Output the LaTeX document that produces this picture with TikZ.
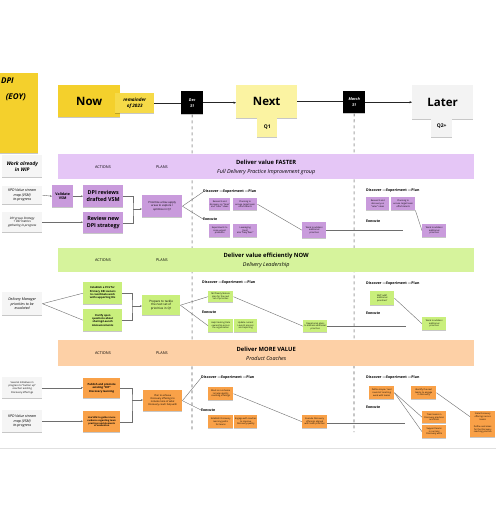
\documentclass[tikz,border=0pt]{standalone}
\usepackage{fontspec}
\setmainfont{Open Sans}
\usetikzlibrary{arrows.meta,shadows}
\newcommand\fsz[2]{\fontsize{#1}{#2}\selectfont}
\definecolor{cGold}{HTML}{F4D02C}
\definecolor{cRem}{HTML}{F6DA48}
\definecolor{cNext}{HTML}{FBF3A2}
\definecolor{cLater}{HTML}{F3F3F3}
\definecolor{cWhite}{HTML}{F5F5F5}
\definecolor{bandP}{HTML}{E5C6F6}
\definecolor{stkP}{HTML}{C99BDC}
\definecolor{bandG}{HTML}{D6F39C}
\definecolor{stkG}{HTML}{C9EF7C}
\definecolor{bandO}{HTML}{FDD0A6}
\definecolor{stkO}{HTML}{F9A148}
\definecolor{lineC}{HTML}{6E6E6E}
\tikzset{
  stk/.style={fill=#1, inner sep=0.5pt, align=center, anchor=north west,
    drop shadow={shadow xshift=0pt, shadow yshift=-0.8pt, opacity=0.22, fill=black}},
  sz/.style 2 args={minimum width=#1, minimum height=#2},
  band/.style={fill=#1, anchor=north west, inner sep=0pt, minimum width=416},
  conn/.style={draw=lineC, line width=0.4pt},
  arr/.style={conn, -{Stealth[length=2pt,width=1.8pt]}},
  tl/.style={draw=black!85, line width=0.6pt},
  tlarr/.style={tl, -{Stealth[length=2.5pt,width=2.2pt]}},
  dashln/.style={draw=black!35, line width=1.1pt, dash pattern=on 3pt off 3pt},
  lbl/.style={anchor=west, inner sep=0pt, font=\fsz{3.6}{4}\bfseries},
  tiny/.style={font=\fsz{2.2}{2.6}},
  bandtxt/.style={font=\fsz{3.8}{4.5}},
}
\begin{document}
\begin{tikzpicture}[x=1pt,y=-1pt]
\useasboundingbox[fill=white] (0,0) rectangle (496,522);
\draw[black!12, line width=0.4pt] (0,448) -- (496,448);
% ---------------- timeline ----------------
\node[stk=cGold, sz={78}{80}] (big) at (-40,73) {};
\node[anchor=east, inner sep=0pt, font=\fsz{8}{9}\bfseries\itshape] (bigA) at (14,81) {DPI};
\node[anchor=east, inner sep=0pt, font=\fsz{8}{9}\bfseries\itshape] (bigB) at (26,97) {(EOY)};
\node[stk=cGold, sz={62}{32}, font=\fsz{11.5}{12}\bfseries] (now) at (58,85) {Now};
\node[stk=cRem, sz={39}{20}, font=\fsz{4.6}{5.6}\bfseries\itshape] (rem) at (115,93) {remainder\\of 2023};
\node[stk=black, sz={22}{23}, text=white, font=\fsz{3.8}{6}\bfseries\itshape] (dec) at (181,91) {Dec\\31};
\node[stk=cNext, sz={61}{33}, font=\fsz{11.5}{12}\bfseries] (next) at (236,85) {Next};
\node[stk=cNext, sz={20}{20}, font=\fsz{5}{6}\bfseries] (q1) at (257,117) {Q1};
\node[stk=black, sz={22}{22}, text=white, font=\fsz{3.8}{6}\bfseries\itshape] (mar) at (343,91) {March\\31};
\node[stk=cLater, sz={61}{34}, font=\fsz{11.5}{12}\bfseries] (later) at (412,85) {Later};
\node[stk=cLater, sz={21}{22}, font=\fsz{5}{6}\bfseries] (q2) at (431,115) {Q2+};
\draw[tl] (rem.east) -- (rem.east -| dec.west);
\draw[tlarr] (dec.east) -- (dec.east -| next.west);
\draw[tl] (next.east) -- (next.east -| mar.west);
\draw[tlarr] (mar.east) -- (mar.east -| later.west);
\coordinate (d1end) at (192,432);
\coordinate (d2end) at (354,432);
\draw[dashln] (dec.south) -- (d1end);
\draw[dashln] (mar.south) -- (d2end);
% ---------------- bands ----------------
\node[band=bandP, minimum height=25] (b1) at (58,154) {};
\node[band=bandG, minimum height=24] (b2) at (58,248) {};
\node[band=bandO, minimum height=26] (b3) at (58,340) {};
\foreach \b/\t/\s in {b1/Deliver value FASTER/Full Delivery Practice Improvement group,
                      b2/Deliver value efficiently NOW/Delivery Leadership,
                      b3/Deliver MORE VALUE/Product Coaches}{
  \node[bandtxt] (\b act) at ([xshift=45]\b.west) {ACTIONS};
  \node[bandtxt] (\b pl) at ([xshift=104]\b.west) {PLANS};
  \node[font=\fsz{5.8}{6.5}\bfseries, inner sep=0pt] (\b tt) at ([yshift=4]\b.center) {\t};
  \node[font=\fsz{5.4}{6}\itshape, inner sep=0pt] (\b st) at ([yshift=-5]\b.center) {\s};
}
% ---------------- row 1 (purple) ----------------
\node[stk=cWhite, sz={40}{22}, font=\fsz{5}{6}\bfseries\itshape] (wip) at (2,155) {Work already\\in WIP};
\node[stk=cWhite, sz={40}{18}, font=\fsz{3.6}{4.4}\itshape] (w1) at (2,186) {KPD Value stream\\map (VSM)\\in-progress};
\node[stk=cWhite, sz={40}{20}, font=\fsz{3}{3.8}\itshape] (w2) at (2,212) {DPI group Strategy\\+ DEI metrics\\gathering in-progress};
\node[stk=stkP, sz={21}{22}, font=\fsz{3.6}{4.4}\bfseries] (val) at (52,185) {Validate\\VSM};
\node[stk=stkP, sz={40}{22}, font=\fsz{5.4}{6.6}\bfseries] (drev) at (83,185) {DPI reviews\\drafted VSM};
\node[stk=stkP, sz={40}{21}, font=\fsz{5.4}{6.6}\bfseries] (rnew) at (83,212) {Review new\\DPI strategy};
\node[stk=stkP, sz={40}{22}, font=\fsz{2.7}{3.4}] (prio) at (142,195) {Prioritize a few supply\\areas to explore /\\optimize in Q1};
\draw[arr] (w1.east) -- (val.west);
\draw[arr] (val.east) -- (drev.west);
\draw[arr] (w2.east) -- (w2.east -| rnew.west);
\coordinate (m1) at (133,209);
\draw[conn] (drev.east) -| (m1) |- (rnew.east);
\draw[arr] (m1) -- (m1 -| prio.west);
\node[lbl] (dep1) at (203,192) {Discover ---Experiment ---Plan};
\node[lbl] (ex1) at (203,219) {Execute};
\draw[conn] (prio.east) -- (dep1.west);
\draw[conn] (prio.east) -- (ex1.west);
\node[stk=stkP, sz={21}{12}, tiny] (s11) at (209,198) {Research and\\discovery on ``Now''\\and ``Later'' ideas};
\node[stk=stkP, sz={24}{12}, tiny] (s12) at (233,198) {Planning to\\ensure target team\\efforts/alerts};
\node[stk=stkP, sz={21}{13}, tiny] (s13) at (209,224) {Experiments to\\solve urgent\\problems};
\node[stk=stkP, sz={24}{13}, tiny] (s14) at (233,224) {Leveraging\\{[tool]}\\also ``Easy fixes''};
\node[stk=stkP, sz={24}{16}, tiny] (far1) at (302,222) {Work to address\\additional\\priorities};
\draw[conn] (s12.east) -- (far1.west);
\coordinate (e1) at (403,230);
\draw[conn] (far1.east |- e1) -- (e1);
\node[lbl] (dep1L) at (366,191) {Discover ---Experiment ---Plan};
\node[lbl] (ex1L) at (366,221) {Execute};
\node[stk=stkP, sz={23}{13}, tiny] (t11) at (366,197) {Research and\\discovery on\\``Later'' ideas};
\node[stk=stkP, sz={24}{13}, tiny] (t12) at (391,197) {Planning to\\ensure target team\\efforts/alerts};
\node[stk=stkP, sz={24}{13}, tiny] (t13) at (422,224) {Work to address\\additional\\priorities};
\draw[conn] (t12.south east) -- (t13.west);
% ---------------- row 2 (green) ----------------
\node[stk=cWhite, sz={40}{23}, font=\fsz{3.6}{4.4}\itshape] (dm) at (2,292) {Delivery Manager\\priorities to be\\escalated};
\node[stk=stkG, sz={39}{22}, font=\fsz{2.6}{3.3}\bfseries] (g1) at (83,282) {Establish a POV for\\Primary DRI owners\\to coordinate work\\with supporting DIs};
\node[stk=stkG, sz={39}{22}, font=\fsz{2.6}{3.3}\bfseries] (g2) at (83,309) {Clarify open\\questions about\\sharing/Launch\\Announcements};
\node[stk=stkG, sz={38}{20}, font=\fsz{3}{3.8}] (prep) at (142,295) {Prepare to tackle\\the next set of\\priorities in Q1};
\draw[conn] (dm.east) -- (g1.west);
\draw[conn] (dm.east) -- (g2.west);
\coordinate (m2) at (132,306);
\draw[conn] (g1.east) -| (m2) |- (g2.east);
\draw[arr] (m2) -- (m2 -| prep.west);
\node[lbl] (dep2) at (202,283) {Discover ---Experiment ---Plan};
\node[lbl] (ex2) at (202,312) {Execute};
\node[stk=stkG, sz={25}{11}, tiny] (s21) at (208,291) {MVP/early feature\\plan for the next\\set of priorities};
\node[stk=stkG, sz={25}{13}, tiny] (s22) at (208,319) {Help tracking Data\\ownership across\\the organization};
\node[stk=stkG, sz={23}{13}, tiny] (s23) at (234,319) {Update current\\Launch process\\and reporting};
\draw[conn] (prep.east) -- (s21.west);
\draw[conn] (prep.east) -- (s22.west);
\node[stk=stkG, sz={24}{12}, tiny] (far2) at (303,320) {Operational plans\\to address additional\\priorities};
\draw[conn] (s21.east) -- (far2.west);
\coordinate (e2) at (406,326);
\draw[conn] (far2.east |- e2) -- (e2);
\node[lbl] (dep2L) at (366,284) {Discover ---Experiment ---Plan};
\node[lbl] (ex2L) at (366,313) {Execute};
\node[stk=stkG, sz={24}{14}, tiny] (t21) at (370,291) {MVP add'l\\additional\\priorities?};
\node[stk=stkG, sz={24}{13}, tiny] (t22) at (422,317) {Work to address\\additional\\priorities};
\draw[conn] (t21.east) -- (t22.west);
% ---------------- row 3 (orange) ----------------
\node[stk=cWhite, sz={40}{21}, font=\fsz{2.5}{3.1}] (ow1) at (2,377) {Several initiatives in\\progress to ``button up''\\coaches' existing\\Discovery offerings};
\node[stk=cWhite, sz={40}{22}, font=\fsz{3.6}{4.4}\itshape] (ow2) at (2,410) {KPD Value stream\\map (VSM)\\in-progress};
\node[stk=stkO, sz={37}{20}, font=\fsz{2.7}{3.4}\bfseries] (o1) at (83,378) {Publish and promote\\existing ``DIY''\\Discovery learning};
\node[stk=stkO, sz={37}{21}, font=\fsz{2.3}{2.9}\bfseries] (o2) at (83,411) {Use VSM to gather more\\evidence regarding team\\practices and elements\\of evaluation};
\node[stk=stkO, sz={39}{21}, font=\fsz{2.4}{3}] (plan) at (143,390) {Plan to achieve\\Discovery offerings to\\include more of what\\Discovery coach help with};
\draw[arr] (ow1.east) -- (ow1.east -| o1.west);
\draw[arr] (ow2.east) -- (ow2.east -| o2.west);
\coordinate (m3) at (132,400);
\draw[conn] (o1.east) -| (m3) |- (o2.east);
\draw[arr] (m3) -- (m3 -| plan.west);
\node[lbl] (dep3) at (201,378) {Discover ---Experiment ---Plan};
\node[lbl] (ex3) at (201,410) {Execute};
\draw[conn] (plan.east) -- (dep3.west);
\draw[conn] (plan.east) -- (ex3.west);
\node[stk=stkO, sz={25}{13}, tiny] (s31) at (208,387) {Work on a scheme\\to help identify\\coaching offerings};
\node[stk=stkO, sz={25}{13}, tiny] (s32) at (208,415) {Establish Discovery\\learning paths\\for teams};
\node[stk=stkO, sz={23}{13}, tiny] (s33) at (234,415) {Engage with coaches\\to improve\\Discovery quality};
\node[stk=stkO, sz={25}{13}, tiny] (far3) at (302,415) {Execute Discovery\\offerings aligned\\with team priorities};
\draw[conn] (s31.east) -- (far3.west);
\coordinate (e3) at (405,423);
\draw[conn] (far3.east |- e3) -- (e3);
\node[lbl] (dep3L) at (366,378) {Discover ---Experiment ---Plan};
\node[lbl] (ex3L) at (366,407) {Execute};
\node[stk=stkO, sz={25}{13}, tiny] (t31) at (369,386) {Define scope / next\\round of coaching\\work with teams};
\node[stk=stkO, sz={25}{13}, tiny] (t32) at (411,386) {Identify the next\\teams to engage\\in Discovery};
\node[stk=stkO, sz={24}{12}, tiny] (t33) at (422,411) {Train teams in\\Discovery practices\\and tools};
\node[stk=stkO, sz={24}{13}, tiny] (t34) at (422,425) {Support teams\\in running\\Discovery work};
\node[stk=stkO, sz={25}{11}, tiny] (t35) at (470,411) {Scale Discovery\\offerings across\\teams};
\node[stk=stkO, sz={25}{15}, tiny] (t36) at (470,422) {Define outcomes\\for the Discovery\\coaching practice};
\draw[conn] (t31.east) -- (t33.west);
\draw[conn] (t31.east) -- (t34.west);
\draw[conn] (t32.east) -- (t35.west);
\end{tikzpicture}
\end{document}
